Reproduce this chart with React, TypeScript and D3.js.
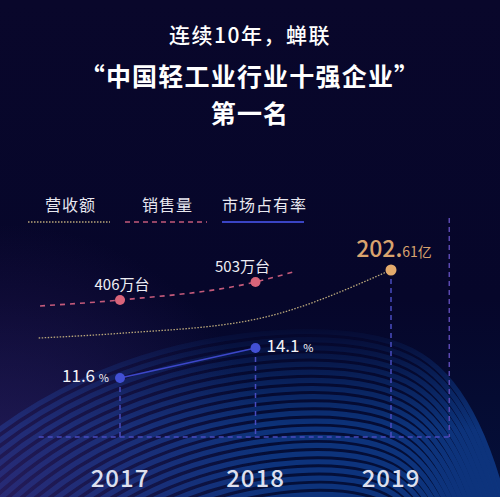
import { useEffect, useRef } from "react";
import { select, scaleLinear, line, curveMonotoneX, curveBasis, range } from "d3";

// years on the x axis
const years = [2017, 2018, 2019];
const revenueTrend: [number, number][] = [
  [2016.4, 130],
  [2017, 135],
  [2018, 150],
  [2019, 202.61],
];
// 销售量 (万台)
const salesYears = [2017, 2018];
const sales = [406, 503];
const salesTrend: [number, number][] = [
  [2016.41, 374],
  [2017, 406],
  [2018, 503],
  [2018.3, 562],
];
// 市场占有率 (%)
const shareYears = [2017, 2018];
const share = [11.6, 14.1];

const legend = ["营收额", "销售量", "市场占有率"];
const titles = ["连续10年，蝉联", "“中国轻工业行业十强企业”", "第一名"];

const FONT = "'Noto Sans CJK SC', 'Noto Sans', sans-serif";

const draw = (ref: HTMLDivElement, size = { w: 500, h: 497 }) => {
  const canvas = select(ref);
  canvas.selectAll("svg").remove();

  const svg = canvas
    .append("svg")
    .attr("width", size.w)
    .attr("height", size.h)
    .style("display", "block")
    .style("font-family", FONT);

  const defs = svg.append("defs");
  const bg = defs
    .append("linearGradient")
    .attr("id", "bg")
    .attr("x1", 0)
    .attr("y1", 0)
    .attr("x2", 0)
    .attr("y2", 1);
  bg.append("stop").attr("offset", "0%").attr("stop-color", "#09072b");
  bg.append("stop").attr("offset", "60%").attr("stop-color", "#06062a");
  bg.append("stop").attr("offset", "100%").attr("stop-color", "#04103a");

  const purple = defs
    .append("radialGradient")
    .attr("id", "purple")
    .attr("cx", 0)
    .attr("cy", 1)
    .attr("r", 0.55);
  purple.append("stop").attr("offset", "0%").attr("stop-color", "#3a2470").attr("stop-opacity", 0.6);
  purple.append("stop").attr("offset", "100%").attr("stop-color", "#3a2470").attr("stop-opacity", 0);

  const fade = defs
    .append("linearGradient")
    .attr("id", "fade")
    .attr("gradientUnits", "userSpaceOnUse")
    .attr("x1", 0)
    .attr("y1", 320)
    .attr("x2", 0)
    .attr("y2", 430);
  fade.append("stop").attr("offset", "0%").attr("stop-color", "#fff").attr("stop-opacity", 0);
  fade.append("stop").attr("offset", "100%").attr("stop-color", "#fff").attr("stop-opacity", 1);
  defs
    .append("mask")
    .attr("id", "waveMask")
    .append("rect")
    .attr("width", size.w)
    .attr("height", size.h)
    .attr("fill", "url(#fade)");

  svg.append("rect").attr("width", size.w).attr("height", size.h).attr("fill", "url(#bg)");

  // background contour bands
  const ring = line<[number, number]>()
    .x((d) => d[0])
    .y((d) => d[1])
    .curve(curveBasis);
  const shape: [number, number][] = [
    [-220, 700],
    [-80, 480],
    [80, 370],
    [250, 328],
    [390, 332],
    [455, 375],
    [500, 470],
    [530, 620],
  ];
  const c = [340, 760];
  svg
    .append("g")
    .attr("mask", "url(#waveMask)")
    .selectAll("path")
    .data(range(0, 50))
    .join("path")
    .attr("d", (k) => {
      const s = 1 - k * 0.019;
      return ring(shape.map(([px, py]) => [c[0] + (px - c[0]) * s, c[1] + (py - c[1]) * s]));
    })
    .attr("fill", "none")
    .attr("stroke", "#0e3680")
    .attr("stroke-width", 5.2)
    .attr("opacity", 0.95);
  svg.append("rect").attr("width", size.w).attr("height", size.h).attr("fill", "url(#purple)");

  // titles
  svg
    .append("g")
    .selectAll("text")
    .data(titles)
    .join("text")
    .attr("x", 250)
    .attr("y", (d, i) => [43, 86, 123][i])
    .attr("text-anchor", "middle")
    .attr("fill", "#ffffff")
    .attr("font-size", (d, i) => (i === 0 ? 21 : 25))
    .attr("font-weight", (d, i) => (i === 0 ? 500 : 700))
    .attr("letter-spacing", (d, i) => (i === 0 ? 1.5 : 1.2))
    .text((d) => d);

  // legend
  const legendColors = ["#b9a77a", "#c45a7a", "#3a44c4"];
  const legendDash = ["1.5,1.5", "5,4", null];
  const lg = svg
    .append("g")
    .selectAll("g")
    .data(legend)
    .join("g")
    .attr("transform", (d, i) => `translate(${28 + i * 97},0)`);
  lg.append("text")
    .attr("x", (d, i) => (i === 2 ? 0 : 17))
    .attr("y", 211)
    .attr("fill", "#e8e8f0")
    .attr("font-size", 16)
    .attr("letter-spacing", 1)
    .text((d) => d);
  lg.append("line")
    .attr("x1", 0)
    .attr("x2", 82)
    .attr("y1", 222)
    .attr("y2", 222)
    .attr("stroke", (d, i) => legendColors[i])
    .attr("stroke-width", (d, i) => (i === 2 ? 2 : 1.5))
    .attr("stroke-dasharray", (d, i) => legendDash[i]);

  // scales
  const x = scaleLinear().domain([2017, 2019]).range([120, 391]);
  const yRev = scaleLinear().domain([130, 202.61]).range([338, 270]);
  const ySales = scaleLinear().domain([406, 503]).range([300, 282]);
  const yShare = scaleLinear().domain([11.6, 14.1]).range([378, 348]);
  const baseY = 437;
  const extent = [2016.4, 2019.43];
  const guide = "#4a4cc0";

  // guides
  const g = svg.append("g");
  g.append("line")
    .attr("x1", x(extent[0]))
    .attr("x2", x(extent[1]))
    .attr("y1", baseY)
    .attr("y2", baseY)
    .attr("stroke", guide)
    .attr("stroke-width", 1.5)
    .attr("stroke-dasharray", "5,4");
  g.append("line")
    .attr("x1", x(extent[1]))
    .attr("x2", x(extent[1]))
    .attr("y1", 218)
    .attr("y2", baseY)
    .attr("stroke", "#5a48b0")
    .attr("stroke-width", 1.5)
    .attr("stroke-dasharray", "5,4");
  const tops = [yShare(share[0]), yShare(share[1]), yRev(202.61)];
  g.selectAll(".vg")
    .data(years)
    .join("line")
    .attr("class", "vg")
    .attr("x1", (d) => x(d))
    .attr("x2", (d) => x(d))
    .attr("y1", (d, i) => tops[i])
    .attr("y2", baseY)
    .attr("stroke", guide)
    .attr("stroke-width", 1.5)
    .attr("stroke-dasharray", "5,4");

  // revenue
  const revLine = line<[number, number]>()
    .x((d) => x(d[0]))
    .y((d) => yRev(d[1]))
    .curve(curveMonotoneX);
  g.append("path")
    .attr("d", revLine(revenueTrend))
    .attr("fill", "none")
    .attr("stroke", "#b9a77a")
    .attr("stroke-width", 1.3)
    .attr("stroke-dasharray", "1.5,1.5");

  // sales
  const salesLine = line<[number, number]>()
    .x((d) => x(d[0]))
    .y((d) => ySales(d[1]))
    .curve(curveMonotoneX);
  g.append("path")
    .attr("d", salesLine(salesTrend))
    .attr("fill", "none")
    .attr("stroke", "#c45a7a")
    .attr("stroke-width", 1.6)
    .attr("stroke-dasharray", "5,5");

  // share
  g.append("line")
    .attr("x1", x(shareYears[0]))
    .attr("y1", yShare(share[0]))
    .attr("x2", x(shareYears[1]))
    .attr("y2", yShare(share[1]))
    .attr("stroke", "#3d47c9")
    .attr("stroke-width", 1.6);

  // points
  g.selectAll(".sp")
    .data(sales)
    .join("circle")
    .attr("class", "sp")
    .attr("cx", (d, i) => x(salesYears[i]))
    .attr("cy", (d) => ySales(d))
    .attr("r", 5)
    .attr("fill", "#d9647a");
  g.selectAll(".mp")
    .data(share)
    .join("circle")
    .attr("class", "mp")
    .attr("cx", (d, i) => x(shareYears[i]))
    .attr("cy", (d) => yShare(d))
    .attr("r", 5)
    .attr("fill", "#4250d4");
  g.append("circle")
    .attr("cx", x(2019))
    .attr("cy", yRev(202.61))
    .attr("r", 5.5)
    .attr("fill", "#e3aa6c");

  // labels
  g.selectAll(".sl")
    .data(sales)
    .join("text")
    .attr("class", "sl")
    .attr("x", (d, i) => x(salesYears[i]) + (i === 0 ? 2 : -13))
    .attr("y", (d) => ySales(d) - 10)
    .attr("text-anchor", "middle")
    .attr("fill", "#eeeef4")
    .attr("font-size", 15)
    .text((d) => `${d}万台`);

  const ml = g
    .selectAll(".ml")
    .data(share)
    .join("text")
    .attr("class", "ml")
    .attr("x", (d, i) => x(shareYears[i]) + (i === 0 ? -11 : 11))
    .attr("y", (d) => yShare(d) + 4)
    .attr("text-anchor", (d, i) => (i === 0 ? "end" : "start"))
    .attr("fill", "#f2f2f6");
  ml.append("tspan").attr("font-size", 17).text((d) => `${d} `);
  ml.append("tspan").attr("font-size", 11).text("%");

  const [intPart, decPart] = (202.61).toFixed(2).split(".");
  const rl = g
    .append("text")
    .attr("x", x(2019) + 3)
    .attr("y", yRev(202.61) - 13)
    .attr("text-anchor", "middle")
    .attr("fill", "#d9a36e");
  rl.append("tspan").attr("font-size", 23).attr("font-weight", 500).text(`${intPart}.`);
  rl.append("tspan").attr("font-size", 14).text(`${decPart}亿`);

  // year labels
  g.selectAll(".yl")
    .data(years)
    .join("text")
    .attr("class", "yl")
    .attr("x", (d) => x(d))
    .attr("y", 487)
    .attr("text-anchor", "middle")
    .attr("fill", "#dde0ef")
    .attr("font-size", 24)
    .attr("font-weight", 500)
    .attr("letter-spacing", 1)
    .text((d) => d);
};

export default function App() {
  const ref = useRef<HTMLDivElement>(null);

  useEffect(() => {
    if (ref.current) draw(ref.current);
  }, []);

  return <div ref={ref} style={{ position: "absolute", left: 0, top: 0 }}></div>;
}
